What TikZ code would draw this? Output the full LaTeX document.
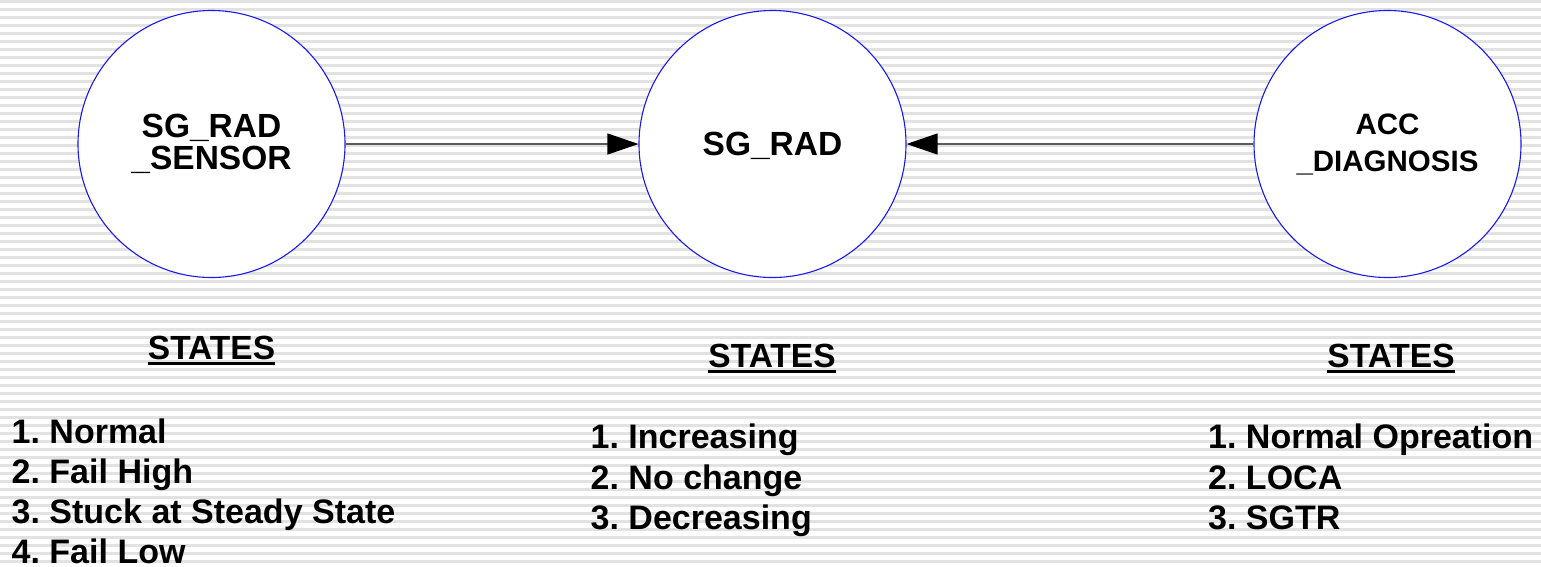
\documentclass[tikz,border=0pt]{standalone}
\usepackage{fontspec}
\setmainfont{Liberation Sans}
\usetikzlibrary{arrows.meta}
\frenchspacing

\definecolor{stripegray}{HTML}{E2E2E2}
\definecolor{ringblue}{HTML}{1A1AF0}
\definecolor{linkgray}{HTML}{5A5A5A}

% thick underline used for the STATES headings
\newcommand\thickul[1]{\setbox0=\hbox{#1}\rlap{\rule[-6pt]{\wd0}{2.6pt}}\box0}

\tikzset{
  statenode/.style={circle, draw=ringblue, line width=1.1pt, fill=white,
    minimum size=267pt, inner sep=0pt, align=center},
  bigtext/.style={font=\fontsize{33.5}{32}\selectfont\bfseries},
  smalltext/.style={font=\fontsize{29.5}{37}\selectfont\bfseries},
  heading/.style={font=\fontsize{33.5}{40}\selectfont\bfseries, anchor=base, inner sep=0pt},
  listline/.style={font=\fontsize{34}{40}\selectfont\bfseries, anchor=base west, inner sep=0pt},
  link/.style={draw=linkgray, line width=1.2pt,
    -{Triangle[length=31pt, width=21pt, black]}},
}

\begin{document}
\begin{tikzpicture}[x=1pt, y=-1pt]
  \useasboundingbox (0,0) rectangle (1541,566);

  % striped backdrop
  \fill[white] (0,0) rectangle (1541,566);
  \foreach \k in {0,...,70}
    \fill[stripegray] (0,8*\k) rectangle (1541,8*\k+2.5);

  % the three variables
  \node[statenode, bigtext] (sensor) at (211.5,144) {SG\_RAD\\\_SENSOR};
  \node[statenode, bigtext, text depth=0pt] (rad) at (772.5,144) {SG\_RAD};
  \node[statenode, smalltext] (acc) at (1387.5,144) {ACC\\\_DIAGNOSIS};

  % dependencies
  \draw[link] (sensor) -- (rad);
  \draw[link] (acc) -- (rad);

  % state headings
  \node[heading] (hl) at (211.5,359) {\thickul{STATES}};
  \node[heading] (hm) at (772,367) {\thickul{STATES}};
  \node[heading] (hr) at (1391,367) {\thickul{STATES}};

  % states of SG_RAD_SENSOR
  \node[listline] (l1) at (11.5,443) {1. Normal};
  \node[listline] (l2) at (11.5,483.5) {2. Fail High};
  \node[listline] (l3) at (11.5,523.5) {3. Stuck at Steady State};
  \node[listline] (l4) at (11.5,563) {4. Fail Low};

  % states of SG_RAD
  \node[listline] (m1) at (590.5,448.5) {1. Increasing};
  \node[listline] (m2) at (590.5,489) {2. No change};
  \node[listline] (m3) at (590.5,529.5) {3. Decreasing};

  % states of ACC_DIAGNOSIS
  \node[listline] (r1) at (1208,448.5) {1. Normal Opreation};
  \node[listline] (r2) at (1208,489) {2. LOCA};
  \node[listline] (r3) at (1208,529.5) {3. SGTR};
\end{tikzpicture}
\end{document}
